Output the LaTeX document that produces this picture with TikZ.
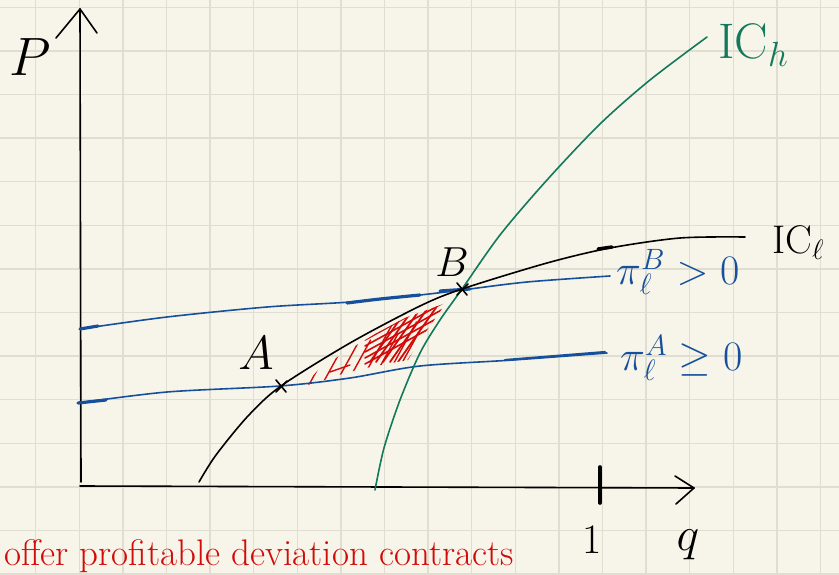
\RequirePackage{fix-cm}
\documentclass[tikz,border=0pt]{standalone}
\usetikzlibrary{calc}
\definecolor{paper}{HTML}{F7F5E9}
\definecolor{gridc}{HTML}{E0DED1}
\definecolor{inkblue}{HTML}{16509C}
\definecolor{inkgreen}{HTML}{13795A}
\definecolor{inkred}{HTML}{D20A0A}
\begin{document}
\begin{tikzpicture}[x=1pt,y=-1pt,line cap=round,line join=round,
  ink/.style={line width=1.6pt},
  thickink/.style={line width=3.2pt},
  lbl/.style={inner sep=0pt},
  hatch/.style={inkred,line width=1.4pt},
  gridline/.style={gridc,line width=1.4pt}]
\fill[paper] (0,0) rectangle (839,575);
\useasboundingbox (0,0) rectangle (839,575);
% grid
\foreach \i in {0,...,18} \draw[gridline] ({35.7+43.6*\i},0) -- ({35.7+43.6*\i},575);
\foreach \j in {0,...,13} \draw[gridline] (0,{7.3+43.6*\j}) -- (839,{7.3+43.6*\j});

% axes
\coordinate (ytop) at (80,9);
\coordinate (ybot) at (81,482);
\coordinate (ybl) at (56,38);
\coordinate (ybr) at (97,33);
\coordinate (xorig) at (80,486);
\coordinate (xend) at (694,488);
\coordinate (xbu) at (675,476);
\coordinate (xbd) at (676,504);
\draw[ink] (ybot) -- (ytop);
\draw[ink] (ybl) -- (ytop) -- (ybr);
\draw[ink] (xorig) -- (xend);
\draw[ink] (xbu) -- (xend) -- (xbd);
\coordinate (tickT) at (600,467);
\coordinate (tickB) at (600,503);
\draw[line width=3.6pt] (tickT) -- (tickB);

% red hatched region
\begin{scope}
\clip (304,386) -- (318,370) -- (345,352) -- (375,334) -- (405,318) -- (446,303) -- (432,323) -- (418,343) -- (408,360) -- (375,366) -- (345,373) -- (318,382) -- cycle;
\foreach \x/\l in {296/40,305/55,318/48,331/60,342/52,355/66,366/58,378/70,386/64,395/72,404/66,412/70,420/60,428/50}
  \draw[hatch] (\x,392) -- ++({0.55*\l},{-\l});
\foreach \x/\l in {370/60,376/50,383/58,390/62,398/55,407/60,415/52,424/48,432/40}
  \draw[hatch,line width=1.8pt] (\x,362) -- ++({0.7*\l},{-\l});
\foreach \y in {312,318,324,330,336,342}
  \draw[hatch,line width=1.6pt] (365,{\y+22}) -- (445,{\y-22});
\draw[hatch] (330,372) -- (350,365);
\end{scope}

% blue profit lines
\draw[inkblue,ink] plot[smooth] coordinates {(80,329) (167,317) (267,307) (350,302) (420,295) (462,290) (527,282) (610,276)};
\draw[inkblue,thickink] (80,329) -- (98,326);
\draw[inkblue,thickink] plot[smooth] coordinates {(347,303) (380,299) (420,295)};
\draw[inkblue,thickink] (440,291) -- (470,289);
\draw[inkblue,ink] plot[smooth] coordinates {(78,403) (167,392) (280,386) (350,378) (420,366) (513,360) (607,353)};
\draw[inkblue,thickink] (78,403) -- (106,400);
\draw[inkblue,line width=2.2pt] (505,360) -- (605,352);

% IC_h (green)
\draw[inkgreen,ink] plot[smooth] coordinates {(375,490) (384,448) (400,400) (420,353) (440,320) (462,289) (500,235) (547,180) (600,124) (650,80) (707,37)};

% IC_l (black)
\draw[ink] plot[smooth] coordinates {(199,482) (216,455) (248,416) (281,386) (350,343) (420,306) (462,289) (547,263) (610,248) (680,238) (745,237)};
\draw[line width=3.4pt] (598,249) -- (612,247);

% points
\coordinate (A) at (281,386);
\coordinate (B) at (462,289);
\draw[ink] ($(A)+(-5,-6)$) -- ($(A)+(5,6)$);
\draw[ink] ($(A)+(-5,6)$) -- ($(A)+(6,-5)$);
\draw[ink] ($(B)+(-5,-6)$) -- ($(B)+(5,6)$);
\draw[ink] ($(B)+(-5,6)$) -- ($(B)+(6,-5)$);

% labels
\node[lbl] (lP) at (30,57) {\fontsize{54}{54}\selectfont $P$};
\node[lbl] (lA) at (256,353) {\fontsize{48}{48}\selectfont $A$};
\node[lbl] (lB) at (452,262) {\fontsize{42}{42}\selectfont $B$};
\node[lbl] (l1) at (592,540) {\fontsize{42}{42}\selectfont 1};
\node[lbl] (lq) at (688,545) {\fontsize{48}{48}\selectfont $q$};
\node[lbl,inkgreen,anchor=west] (lICh) at (718,45) {\fontsize{50}{50}\selectfont IC$_h$};
\node[lbl,anchor=west] (lICl) at (772,243) {\fontsize{40}{40}\selectfont IC$_\ell$};
\node[lbl,inkblue,anchor=west] (lpiB) at (616,272) {\fontsize{42}{42}\selectfont $\pi_\ell^B>0$};
\node[lbl,inkblue,anchor=west] (lpiA) at (620,358) {\fontsize{42}{42}\selectfont $\pi_\ell^A\geq 0$};
\node[lbl,inkred,anchor=base west] (lred) at (4,565) {\fontsize{37}{37}\selectfont offer profitable deviation contracts};
\end{tikzpicture}
\end{document}
